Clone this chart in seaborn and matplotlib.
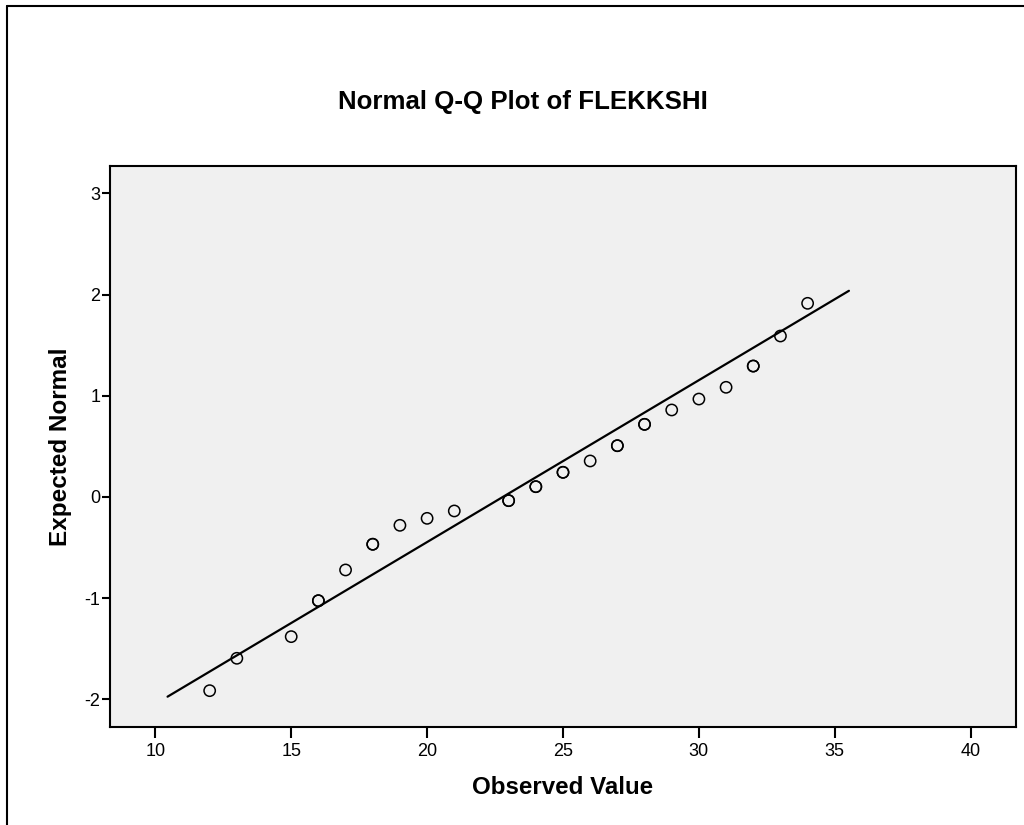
import numpy as np
import pandas as pd
import matplotlib
matplotlib.use("Agg")
import matplotlib.pyplot as plt
import seaborn as sns
from matplotlib.lines import Line2D

# ---- data ----
observed = [12, 13, 15, 16, 17, 18, 19, 20, 21, 23, 24, 25, 26, 27, 28, 29, 30, 31, 32, 33, 34]
expected = [-1.915, -1.595, -1.381, -1.026, -0.722, -0.468, -0.281, -0.212, -0.139,
            -0.037, 0.101, 0.243, 0.355, 0.506, 0.717, 0.859, 0.967, 1.083, 1.293, 1.59, 1.913]
counts = [1, 1, 1, 2, 1, 2, 1, 1, 1, 2, 2, 2, 1, 2, 2, 1, 1, 1, 2, 1, 1]
line_mean = 22.79
line_sd = 6.25
line_x = [10.45, 35.52]
x_ticks = [10, 15, 20, 25, 30, 35, 40]
y_ticks = [-2, -1, 0, 1, 2, 3]

sns.set_theme(style="white")
plt.rcParams['font.family'] = ['Liberation Sans', 'DejaVu Sans']

ref = pd.DataFrame({"x": line_x})
ref["y"] = (ref["x"] - line_mean) / line_sd

fig = plt.figure(figsize=(10.24, 8.25), dpi=100)
fig.patch.set_facecolor("white")
ax = fig.add_axes([110 / 1024, 1 - 727.3 / 825, (1016 - 110) / 1024, (727.3 - 165.7) / 825])
ax.set_facecolor("#f0f0f0")

sns.lineplot(data=ref, x="x", y="y", ax=ax, color="black", linewidth=1.6, zorder=2)
for i in range(max(counts)):
    sub = pd.DataFrame({"Observed": [o for o, c in zip(observed, counts) if c > i],
                        "Expected": [e for e, c in zip(expected, counts) if c > i]})
    sns.scatterplot(data=sub, x="Observed", y="Expected", ax=ax, marker="o", s=66,
                    facecolors="none", edgecolors="black", linewidth=1.1, zorder=3)

ax.set_xlim(8.333, 41.667)
ax.set_ylim(-2.277, 3.273)
ax.set_xticks(x_ticks)
ax.set_yticks(y_ticks)
ax.set_xticklabels([str(t) for t in x_ticks])
ax.set_yticklabels([str(t) for t in y_ticks])
ax.tick_params(axis="x", length=8, width=1.5, color="black", labelsize=13, pad=3, bottom=True)
ax.tick_params(axis="y", length=6, width=1.5, color="black", labelsize=13, pad=1, left=True)
for lab in ax.get_xticklabels() + ax.get_yticklabels():
    lab.set_color("black")
for sp in ax.spines.values():
    sp.set_visible(True)
    sp.set_color("black")
    sp.set_linewidth(1.5)

ax.set_xlabel("")
ax.set_ylabel("")
fig.text(562.5 / 1024, 1 - 788 / 825, "Observed Value", ha="center", va="center",
         fontsize=17.4, fontweight="bold", color="black")
fig.text(61 / 1024, 1 - 447 / 825, "Expected Normal", ha="center", va="center",
         rotation=90, fontsize=17.5, fontweight="bold", color="black")
fig.text(523 / 1024, 1 - 102 / 825, "Normal Q-Q Plot of FLEKKSHI", ha="center", va="center",
         fontsize=18.6, fontweight="bold", color="black")

# outer frame (left and top edges visible in the reference)
fig.add_artist(Line2D([7 / 1024, 7 / 1024], [0, 1 - 6 / 825], transform=fig.transFigure,
                      color="black", linewidth=1.5))
fig.add_artist(Line2D([7 / 1024, 1], [1 - 6 / 825, 1 - 6 / 825], transform=fig.transFigure,
                      color="black", linewidth=1.5))

fig.savefig("out.png", dpi=100)
